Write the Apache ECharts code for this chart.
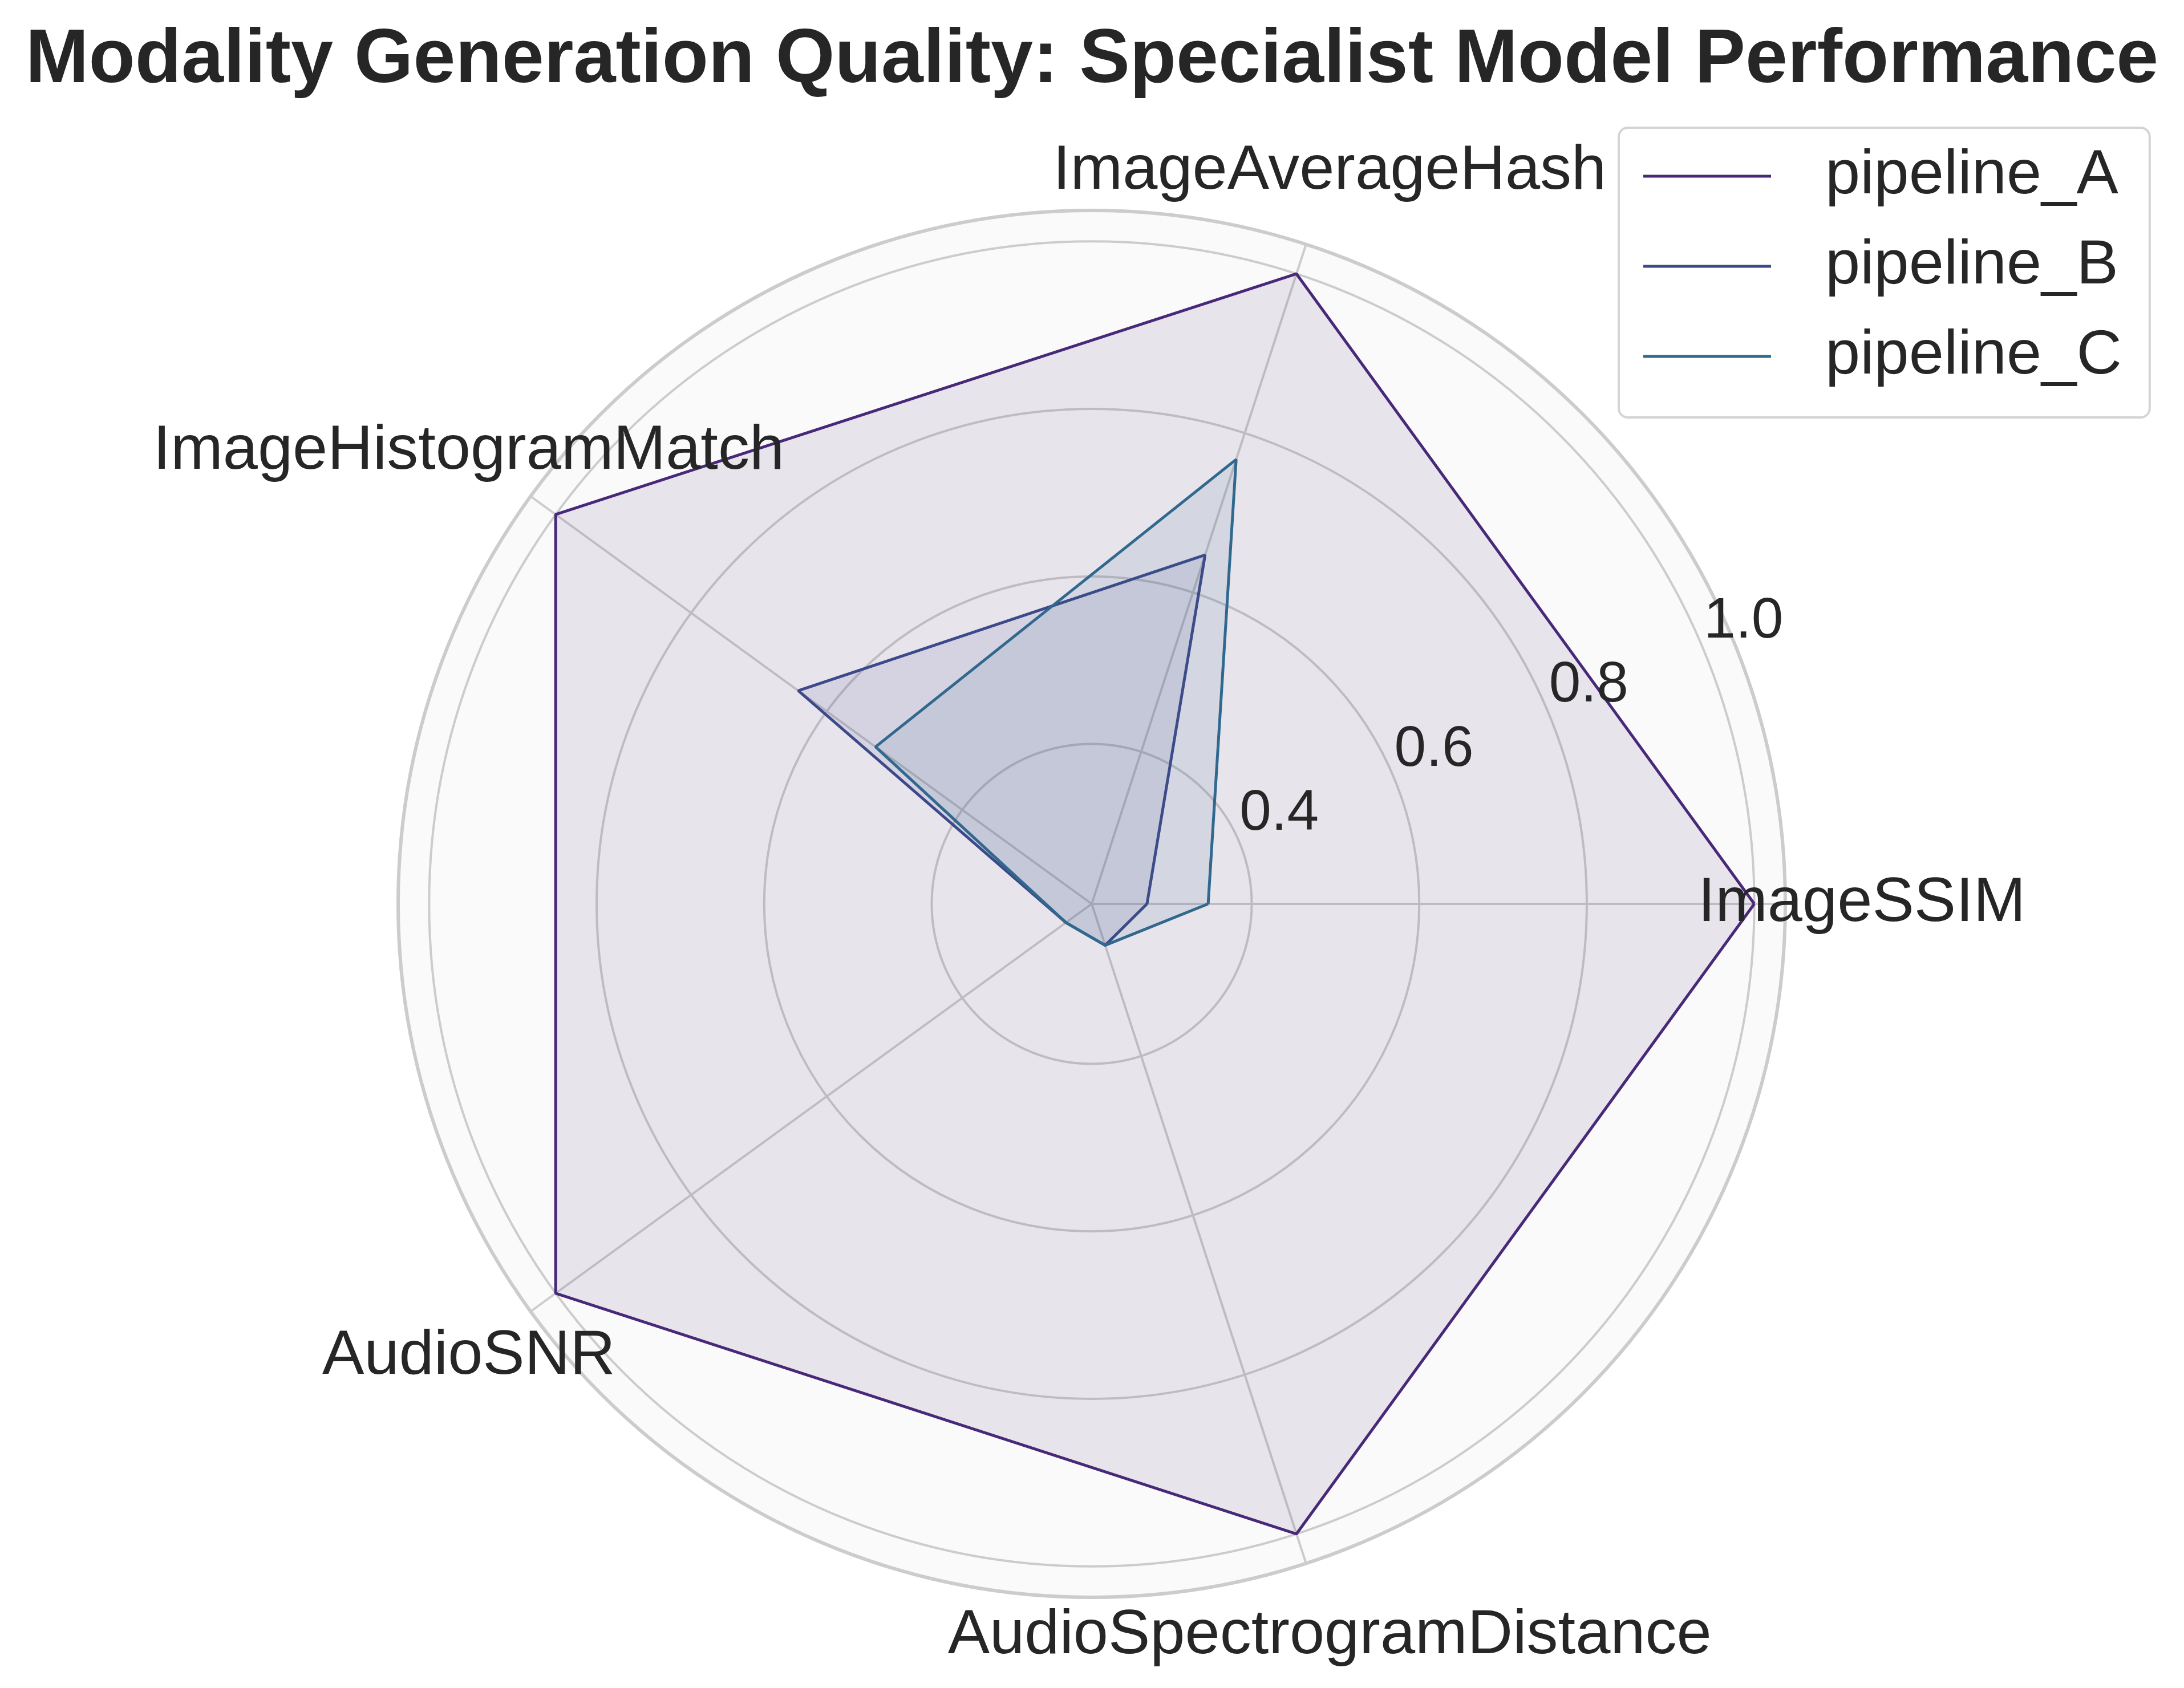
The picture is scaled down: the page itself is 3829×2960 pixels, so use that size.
<!DOCTYPE html>
<html>
<head>
<meta charset="utf-8">
<script src="https://cdn.jsdelivr.net/npm/echarts@6/dist/echarts.min.js"></script>
<style>
  html, body { margin: 0; padding: 0; background: #ffffff; }
  #chart { width: 3829px; height: 2960px; }
</style>
</head>
<body>
<div id="chart"></div>
<script>
// ---- data ----
const categories = ['ImageSSIM', 'ImageAverageHash', 'ImageHistogramMatch', 'AudioSNR', 'AudioSpectrogramDistance'];
const seriesNames = ['pipeline_A', 'pipeline_B', 'pipeline_C'];
const pipelineA = [1.0, 1.0, 1.0, 1.0, 1.0];
const pipelineB = [0.275, 0.647, 0.642, 0.247, 0.261];
const pipelineC = [0.348, 0.767, 0.528, 0.247, 0.261];
const radialTicks = [0.4, 0.6, 0.8, 1.0];
const radialMin = 0.209;
const radialMax = 1.037;

// ---- style ----
const colors = ['#482878', '#3e4989', '#31688e'];
const textColor = '#262626';
const fontFamily = 'Liberation Sans, Arial, sans-serif';
const CENTER = [1914, 1585];
const RADIUS = 1216;
const LABEL_OFFSET = 134;
const N = categories.length;

// angle coordinate = category index (0..N), closing the loop at index N (= full turn)
function closedLoop(vals) {
  const pts = vals.map((v, i) => [v, i]);
  pts.push([vals[0], N]);
  return pts;
}

const allVals = [pipelineA, pipelineB, pipelineC];
const lineSeries = allVals.map((vals, i) => ({
  name: seriesNames[i],
  type: 'line',
  coordinateSystem: 'polar',
  polarIndex: 0,
  data: closedLoop(vals),
  symbol: 'none',
  smooth: false,
  clip: false,
  color: colors[i],
  lineStyle: { color: colors[i], width: 5 },
  itemStyle: { color: colors[i] },
  areaStyle: { color: colors[i], opacity: 0.1 },
  z: 2 + i
}));

const labelSeries = {
  type: 'custom',
  coordinateSystem: 'polar',
  polarIndex: 0,
  silent: true,
  z: 10,
  data: categories.map((c, i) => [radialMax, i]),
  renderItem: function (params, api) {
    const p = api.coord([api.value(0), api.value(1)]);
    const cs = params.coordSys;
    const dx = p[0] - cs.cx, dy = p[1] - cs.cy;
    const len = Math.hypot(dx, dy) || 1;
    return {
      type: 'text',
      x: p[0] + dx / len * LABEL_OFFSET,
      y: p[1] + dy / len * LABEL_OFFSET,
      style: {
        text: categories[params.dataIndex],
        fill: textColor,
        fontSize: 110,
        fontFamily: fontFamily,
        align: 'center',
        verticalAlign: 'middle'
      }
    };
  }
};

const chart = echarts.init(document.getElementById('chart'), null, { renderer: 'canvas' });
chart.setOption({
  animation: false,
  backgroundColor: '#ffffff',
  title: {
    text: 'Modality Generation Quality: Specialist Model Performance',
    left: 'center',
    top: 36,
    textStyle: { fontSize: 133, fontWeight: 'bold', color: textColor, fontFamily: fontFamily }
  },
  legend: {
    data: seriesNames,
    orient: 'vertical',
    left: 2838,
    top: 224,
    icon: 'rect',
    itemWidth: 224,
    itemHeight: 5,
    itemGap: 48,
    padding: [30, 49, 52, 43],
    backgroundColor: 'rgba(255,255,255,0.8)',
    borderColor: '#d4d4d4',
    borderWidth: 4,
    borderRadius: 16,
    textStyle: { fontSize: 110, color: textColor, fontFamily: fontFamily, padding: [0, 0, 0, 90] }
  },
  polar: [
    { center: CENTER, radius: [0, RADIUS] },
    { center: CENTER, radius: [0, RADIUS] }
  ],
  angleAxis: [
    {
      polarIndex: 0,
      type: 'value',
      min: 0,
      max: N,
      interval: 1,
      startAngle: 0,
      clockwise: false,
      z: 2,
      axisLine: { show: true, lineStyle: { color: '#cccccc', width: 6 } },
      axisTick: { show: false },
      axisLabel: { show: false },
      splitLine: { show: true, lineStyle: { color: '#cccccc', width: 4 } },
      splitArea: { show: false }
    },
    {
      polarIndex: 1,
      type: 'value',
      min: 0,
      max: 360,
      startAngle: 22.5,
      clockwise: false,
      z: 0,
      axisLine: { show: false },
      axisTick: { show: false },
      axisLabel: { show: false },
      splitLine: { show: false },
      splitArea: { show: true, areaStyle: { color: ['#fafafa'] } }
    }
  ],
  radiusAxis: [
    {
      polarIndex: 0,
      type: 'value',
      min: radialMin,
      max: radialMax,
      z: 2,
      axisLine: { show: false },
      axisTick: { show: false, customValues: radialTicks },
      axisLabel: { show: false, customValues: radialTicks },
      splitLine: { show: true, lineStyle: { color: '#cccccc', width: 4 } }
    },
    {
      polarIndex: 1,
      type: 'value',
      min: radialMin,
      max: radialMax,
      z: 20,
      axisLine: { show: false },
      axisTick: { show: false, customValues: radialTicks },
      splitLine: { show: false },
      axisLabel: {
        show: true,
        customValues: radialTicks,
        formatter: v => Number(v).toFixed(1),
        fontSize: 100,
        color: textColor,
        fontFamily: fontFamily,
        margin: 0,
        align: 'left',
        verticalAlign: 'bottom'
      }
    }
  ],
  series: lineSeries.concat([labelSeries])
});
</script>
</body>
</html>
